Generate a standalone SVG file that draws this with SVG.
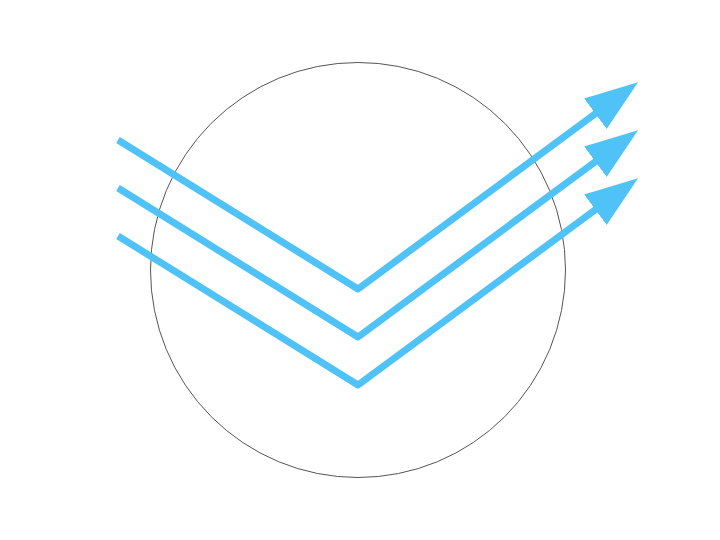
<svg xmlns="http://www.w3.org/2000/svg" width="720" height="540" viewBox="0 0 720 540">
<defs>
<style>
.ray{fill:none;stroke:#4FC3F7;stroke-width:7;stroke-linejoin:round;stroke-linecap:butt}
.circ{fill:none;stroke:#555555;stroke-width:1}
</style>
<marker id="ah" markerUnits="userSpaceOnUse" markerWidth="54" markerHeight="38" refX="2" refY="19" orient="auto" viewBox="0 0 54 38">
<path d="M0,0 L53,19 L0,38 z" fill="#4FC3F7"/>
</marker>
</defs>
<rect width="720" height="540" fill="#ffffff"/>
<g id="circle"><circle class="circ" cx="358" cy="270" r="207.5"/></g>
<g id="connectors">
<path class="ray" d="M118,140 L358,289 L597,112.5" marker-end="url(#ah)"/>
<path class="ray" d="M118,188 L358,337 L597,160.5" marker-end="url(#ah)"/>
<path class="ray" d="M118,236 L358,385 L597,208.5" marker-end="url(#ah)"/>
</g>
</svg>
